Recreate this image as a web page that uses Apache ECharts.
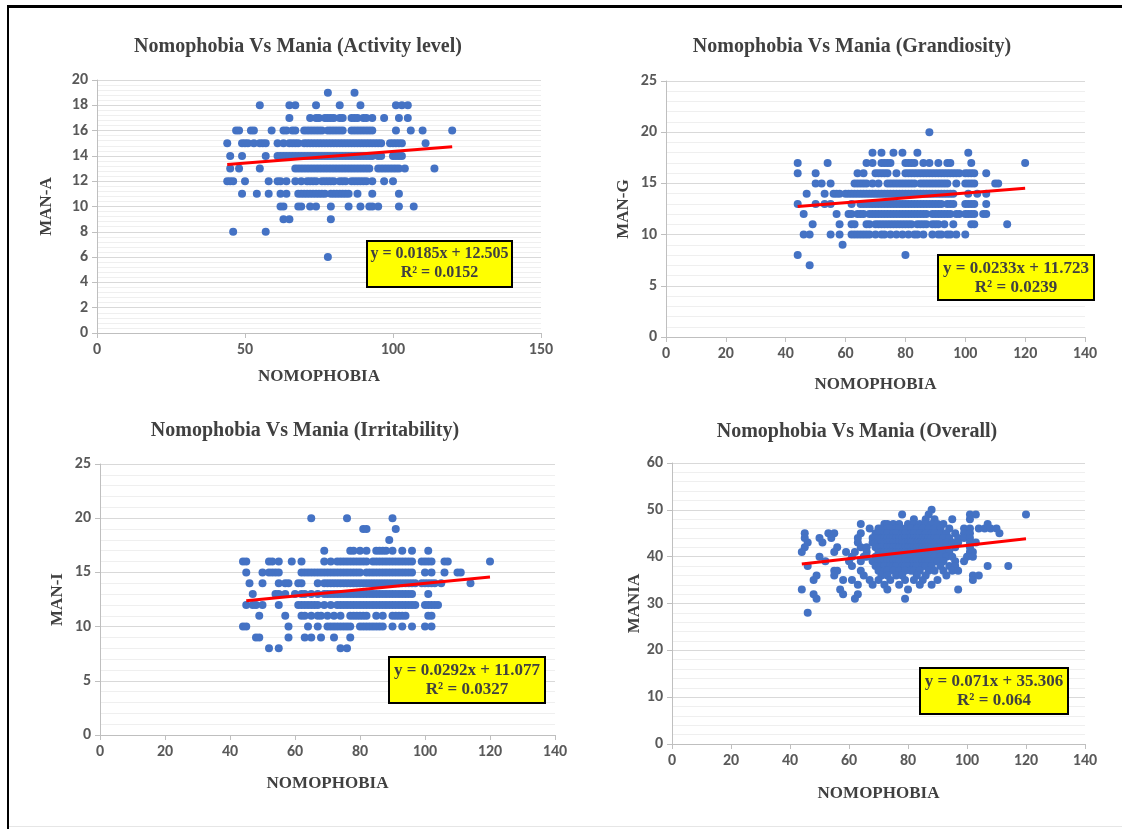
<!DOCTYPE html>
<html><head><meta charset="utf-8">
<script src="https://cdn.jsdelivr.net/npm/echarts@6/dist/echarts.min.js"></script>
<style>html,body{margin:0;padding:0;background:#fff}#c{width:1122px;height:829px}</style>
</head><body><div id="c"></div>
<script>
// ---------- DATA ----------
const chartTitles = ['Nomophobia Vs Mania (Activity level)', 'Nomophobia Vs Mania (Grandiosity)', 'Nomophobia Vs Mania (Irritability)', 'Nomophobia Vs Mania (Overall)'];
const xAxisName = 'NOMOPHOBIA';
const yAxisNames = ['MAN-A', 'MAN-G', 'MAN-I', 'MANIA'];
const equationLines = [
  ['y = 0.0185x + 12.505', 'R² = 0.0152'],
  ['y = 0.0233x + 11.723', 'R² = 0.0239'],
  ['y = 0.0292x + 11.077', 'R² = 0.0327'],
  ['y = 0.071x + 35.306', 'R² = 0.064']
];
const xMax = [150, 140, 140, 140];
const xStep = [50, 20, 20, 20];
const yMax = [20, 25, 25, 60];
const yStep = [2, 5, 5, 10];

// rows: [y value, [x values of the dots on that row]]
const activityRows = [
  [19, [78, 87]],
  [18, [55, 65, 67, 74, 82, 89, 101, 103, 105]],
  [17, [65, 72, 74, 75, 77, 78, 79, 80, 82, 83, 86, 87, 88, 90, 91, 93, 97, 102, 105]],
  [16, [47, 48, 52, 53, 59, 63, 64, 66, 67, 70, 71, 72, 73, 74, 75, 76, 78, 79, 80, 81, 82, 83, 86, 87, 88, 89, 90, 91, 92, 93, 101, 106, 110, 120]],
  [15, [44, 49, 50, 51, 53, 55, 56, 57, 61, 63, 65, 66, 67, 68, 70, 71, 72, 73, 74, 75, 76, 77, 78, 79, 80, 81, 82, 83, 84, 85, 86, 87, 88, 89, 90, 91, 92, 93, 94, 95, 96, 99, 100, 101, 102, 103, 111]],
  [14, [45, 49, 57, 61, 62, 63, 64, 65, 66, 67, 68, 69, 70, 71, 72, 73, 74, 75, 76, 77, 78, 79, 80, 81, 82, 83, 84, 85, 86, 87, 88, 89, 90, 91, 92, 93, 95, 96, 100, 101, 102, 103]],
  [13, [45, 48, 55, 67, 68, 69, 70, 71, 72, 73, 74, 75, 76, 77, 78, 79, 80, 81, 82, 83, 84, 85, 86, 87, 88, 89, 90, 91, 92, 95, 96, 97, 98, 99, 100, 101, 102, 104, 114]],
  [12, [44, 45, 46, 50, 58, 61, 62, 64, 67, 69, 71, 72, 73, 74, 76, 77, 78, 79, 80, 82, 83, 84, 86, 87, 88, 89, 90, 91, 93, 97, 100]],
  [11, [49, 54, 58, 62, 64, 68, 69, 70, 71, 72, 73, 74, 75, 76, 77, 79, 80, 81, 82, 83, 84, 85, 88, 93, 102]],
  [10, [62, 63, 68, 69, 72, 74, 79, 85, 89, 92, 93, 95, 102, 107]],
  [9, [63, 65, 79]],
  [8, [46, 57]],
  [6, [78]]
];
const grandiosityRows = [
  [20, [88]],
  [18, [69, 72, 76, 79, 84, 101]],
  [17, [44, 54, 67, 69, 72, 73, 74, 75, 80, 81, 82, 83, 86, 88, 91, 94, 95, 102, 120]],
  [16, [44, 50, 64, 66, 70, 71, 72, 73, 74, 77, 80, 81, 82, 83, 84, 85, 86, 87, 88, 89, 90, 91, 92, 93, 94, 95, 96, 97, 98, 100, 101, 102, 103, 107]],
  [15, [50, 52, 55, 63, 64, 65, 66, 67, 69, 71, 74, 75, 76, 77, 78, 79, 80, 81, 82, 83, 85, 86, 87, 88, 89, 90, 91, 92, 93, 94, 97, 100, 101, 102, 103, 110, 111]],
  [14, [47, 53, 56, 57, 58, 60, 61, 62, 63, 64, 65, 66, 67, 68, 69, 70, 71, 72, 73, 74, 75, 76, 77, 78, 79, 80, 81, 82, 83, 84, 85, 86, 87, 88, 89, 90, 91, 92, 93, 94, 95, 96, 101, 104, 107]],
  [13, [44, 50, 53, 55, 62, 65, 66, 67, 68, 69, 70, 71, 72, 73, 74, 75, 76, 77, 78, 79, 80, 81, 82, 83, 84, 85, 86, 87, 88, 89, 90, 91, 92, 94, 95, 96, 100, 101, 102, 103, 107]],
  [12, [46, 57, 61, 62, 64, 65, 66, 68, 69, 70, 71, 72, 73, 74, 75, 76, 77, 78, 79, 80, 81, 82, 83, 84, 85, 86, 87, 89, 90, 91, 92, 93, 94, 95, 97, 98, 100, 101, 102, 103, 106, 107]],
  [11, [49, 58, 62, 63, 67, 68, 70, 71, 72, 73, 74, 75, 76, 77, 78, 79, 80, 81, 82, 84, 85, 86, 87, 89, 90, 91, 93, 96, 102, 103, 114]],
  [10, [46, 48, 55, 58, 62, 63, 64, 65, 66, 67, 68, 70, 72, 73, 75, 77, 79, 81, 83, 84, 86, 89, 91, 92, 94, 95, 97, 100]],
  [9, [59]],
  [8, [44, 80]],
  [7, [48]]
];
const irritabilityRows = [
  [20, [65, 76, 90]],
  [19, [81, 82, 91]],
  [18, [89]],
  [17, [69, 77, 78, 80, 82, 85, 86, 87, 88, 90, 93, 96, 101]],
  [16, [44, 45, 52, 53, 55, 59, 62, 69, 71, 73, 74, 75, 76, 77, 78, 79, 80, 81, 82, 84, 85, 86, 87, 88, 89, 90, 91, 92, 93, 94, 95, 96, 99, 100, 101, 102, 106, 107, 120]],
  [15, [45, 50, 52, 53, 54, 55, 62, 63, 64, 65, 66, 67, 68, 69, 70, 71, 72, 73, 74, 75, 76, 77, 78, 79, 80, 82, 83, 84, 85, 86, 87, 88, 89, 90, 91, 92, 93, 94, 95, 96, 100, 102, 106, 110, 111]],
  [14, [46, 50, 55, 57, 58, 61, 62, 67, 69, 70, 71, 72, 73, 74, 75, 76, 77, 78, 79, 80, 81, 82, 83, 84, 85, 86, 87, 88, 89, 90, 91, 92, 93, 94, 95, 96, 97, 99, 100, 101, 102, 103, 105, 114]],
  [13, [47, 54, 55, 57, 60, 62, 63, 65, 67, 69, 70, 71, 72, 73, 74, 75, 76, 77, 78, 79, 80, 81, 82, 83, 84, 85, 86, 87, 88, 89, 90, 91, 92, 93, 94, 95, 96, 101]],
  [12, [45, 47, 48, 50, 55, 61, 62, 63, 64, 65, 66, 67, 69, 71, 73, 74, 75, 76, 77, 78, 79, 80, 81, 82, 83, 84, 85, 86, 87, 88, 89, 90, 91, 92, 93, 94, 95, 96, 97, 100, 101, 102, 103, 104]],
  [11, [49, 57, 62, 63, 65, 67, 68, 70, 72, 74, 77, 78, 79, 80, 81, 82, 85, 87, 90, 91, 92, 93, 94, 101, 102]],
  [10, [44, 45, 58, 64, 67, 70, 71, 72, 73, 74, 75, 76, 77, 80, 81, 82, 83, 84, 85, 86, 87, 90, 93, 96, 100, 102]],
  [9, [48, 49, 58, 63, 65, 68, 72, 77]],
  [8, [52, 55, 74, 76]]
];
const overallRows = [
  [50, [88]],
  [49, [78, 87, 101, 103, 120]],
  [48, [82, 86, 89, 95, 101]],
  [47, [64, 72, 73, 75, 77, 80, 82, 84, 86, 88, 90, 92, 107]],
  [46, [67, 70, 71, 73, 74, 76, 77, 79, 81, 83, 85, 87, 89, 91, 94, 99, 101, 104, 106, 108, 110]],
  [45, [45, 53, 55, 64, 69, 70, 72, 73, 75, 76, 78, 79, 81, 82, 84, 86, 88, 89, 91, 93, 96, 99, 101, 111]],
  [44, [45, 50, 54, 63, 68, 69, 70, 71, 72, 73, 74, 75, 76, 77, 78, 79, 80, 81, 82, 83, 84, 85, 86, 87, 88, 89, 90, 92, 94, 97, 99, 101]],
  [43, [46, 51, 63, 68, 69, 70, 71, 72, 73, 74, 75, 76, 77, 78, 79, 80, 81, 82, 83, 84, 85, 86, 87, 88, 89, 90, 91, 93, 95, 97, 101, 103]],
  [42, [45, 56, 64, 66, 69, 70, 71, 72, 73, 74, 75, 76, 77, 78, 79, 80, 81, 82, 83, 84, 85, 86, 87, 88, 89, 90, 91, 93, 96, 101]],
  [41, [44, 55, 59, 62, 66, 70, 71, 72, 73, 74, 75, 76, 77, 78, 79, 80, 81, 82, 83, 84, 85, 86, 87, 88, 89, 90, 92, 94, 101, 102]],
  [40, [50, 61, 65, 66, 69, 70, 71, 72, 73, 74, 75, 76, 77, 78, 79, 80, 81, 82, 83, 84, 85, 86, 87, 88, 89, 91, 93, 95, 100, 102]],
  [39, [52, 60, 64, 68, 70, 71, 72, 73, 74, 75, 76, 77, 78, 79, 80, 81, 82, 83, 84, 85, 86, 87, 89, 90, 92, 96, 99]],
  [38, [46, 61, 69, 71, 72, 74, 75, 76, 78, 79, 80, 82, 83, 85, 86, 88, 91, 94, 96, 107, 114]],
  [37, [55, 56, 64, 70, 72, 73, 75, 77, 79, 81, 82, 84, 87, 89, 92, 95, 97]],
  [36, [49, 55, 65, 71, 73, 76, 78, 83, 86, 93, 102, 104]],
  [35, [48, 58, 61, 67, 70, 74, 79, 82, 85, 90, 102]],
  [34, [63, 68, 72, 77, 84, 88]],
  [33, [44, 57, 73, 80, 97]],
  [32, [48, 58, 63]],
  [31, [49, 62, 79]],
  [28, [46]]
];
// trend line end points (as drawn)
const trendActivity = [[44, 13.32], [120, 14.73]];
const trendGrandiosity = [[44, 12.75], [120, 14.52]];
const trendIrritability = [[45, 12.39], [120, 14.58]];
const trendOverall = [[44, 38.43], [120, 43.83]];

// ---------- LAYOUT ----------
const panelRows = [activityRows, grandiosityRows, irritabilityRows, overallRows];
const panelTrends = [trendActivity, trendGrandiosity, trendIrritability, trendOverall];
const grids = [
  {left: 97, top: 80, width: 444, height: 253},
  {left: 666, top: 81, width: 419, height: 256},
  {left: 100, top: 464, width: 455, height: 271},
  {left: 672, top: 463, width: 413, height: 281}
];
const titlePos = [[298, 37], [852, 37], [305, 421], [857, 422]];
const xNameGap = [35, 39, 40, 41];
const yNameGap = [42, 34, 34, 27];
const eqBoxes = [[367, 241, 145, 46], [938, 255, 156, 45], [389, 657, 156, 46], [920, 668, 148, 46]];
const eqFont = [16, 17, 17, 17];

const serif = '"Liberation Serif", "Times New Roman", serif';
const sans = 'Carlito, Lato, "Open Sans", sans-serif';
const toPoints = rows => rows.flatMap(([y, xs]) => xs.map(x => [x, y]));

const option = {
  backgroundColor: '#ffffff',
  animation: false,
  grid: grids.map(g => Object.assign({containLabel: false}, g)),
  xAxis: grids.map((g, i) => ({
    type: 'value', gridIndex: i, min: 0, max: xMax[i], interval: xStep[i],
    name: xAxisName, nameLocation: 'middle', nameGap: xNameGap[i],
    nameTextStyle: {fontFamily: serif, fontWeight: 'bold', fontSize: 17, color: '#404040'},
    axisLine: {show: true, lineStyle: {color: '#bfbfbf', width: 1}},
    axisTick: {show: true, length: 5, lineStyle: {color: '#bfbfbf'}},
    axisLabel: {fontFamily: sans, fontWeight: 'bold', fontSize: 16, color: '#595959', margin: 9},
    splitLine: {show: false}
  })),
  yAxis: grids.map((g, i) => ({
    type: 'value', gridIndex: i, min: 0, max: yMax[i], interval: yStep[i],
    name: yAxisNames[i], nameLocation: 'middle', nameGap: yNameGap[i], nameRotate: 90,
    nameTextStyle: {fontFamily: serif, fontWeight: 'bold', fontSize: 17, color: '#404040'},
    axisLine: {show: true, lineStyle: {color: '#bfbfbf', width: 1}},
    axisTick: {show: true, length: 5, lineStyle: {color: '#bfbfbf'}},
    axisLabel: {fontFamily: sans, fontWeight: 'bold', fontSize: 16, color: '#595959', margin: 9},
    splitLine: {show: true, lineStyle: {color: '#d9d9d9', width: 1}},
    minorTick: {show: false, splitNumber: 5},
    minorSplitLine: {show: true, lineStyle: {color: '#efefef', width: 1}}
  })),
  series: [
    ...panelRows.map((rows, i) => ({
      type: 'scatter', xAxisIndex: i, yAxisIndex: i, data: toPoints(rows),
      symbol: 'circle', symbolSize: 8, itemStyle: {color: '#4472C4', opacity: 1},
      silent: true, z: 2
    })),
    ...panelTrends.map((pts, i) => ({
      type: 'line', xAxisIndex: i, yAxisIndex: i, data: pts, symbol: 'none',
      lineStyle: {color: '#FF0000', width: 3}, silent: true, z: 3
    }))
  ],
  graphic: [
    {type: 'rect', z: 100, shape: {x: 8, y: 5, width: 1114, height: 3}, style: {fill: '#000'}, silent: true},
    {type: 'rect', z: 100, shape: {x: 7, y: 5, width: 2, height: 824}, style: {fill: '#000'}, silent: true},
    {type: 'rect', z: 100, shape: {x: 9, y: 826, width: 1113, height: 1}, style: {fill: '#e6e6e6'}, silent: true},
    ...chartTitles.map((t, i) => ({
      type: 'text', z: 100, x: titlePos[i][0], y: titlePos[i][1], silent: true,
      style: {text: t, fill: '#404040', font: 'bold 20px ' + serif, textAlign: 'center', textVerticalAlign: 'top'}
    })),
    ...eqBoxes.flatMap((b, i) => ([
      {type: 'rect', z: 100, silent: true, shape: {x: b[0], y: b[1], width: b[2], height: b[3]}, style: {fill: '#FFFF00', stroke: '#000', lineWidth: 2}},
      {type: 'text', z: 101, silent: true, x: b[0] + b[2] / 2, y: b[1] + 5, style: {text: equationLines[i][0], fill: '#404040', font: 'bold ' + eqFont[i] + 'px ' + serif, textAlign: 'center', textVerticalAlign: 'top'}},
      {type: 'text', z: 101, silent: true, x: b[0] + b[2] / 2, y: b[1] + 24, style: {text: equationLines[i][1], fill: '#404040', font: 'bold ' + eqFont[i] + 'px ' + serif, textAlign: 'center', textVerticalAlign: 'top'}}
    ]))
  ]
};
const chart = echarts.init(document.getElementById('c'), null, {renderer: 'canvas'});
chart.setOption(option);
</script></body></html>
